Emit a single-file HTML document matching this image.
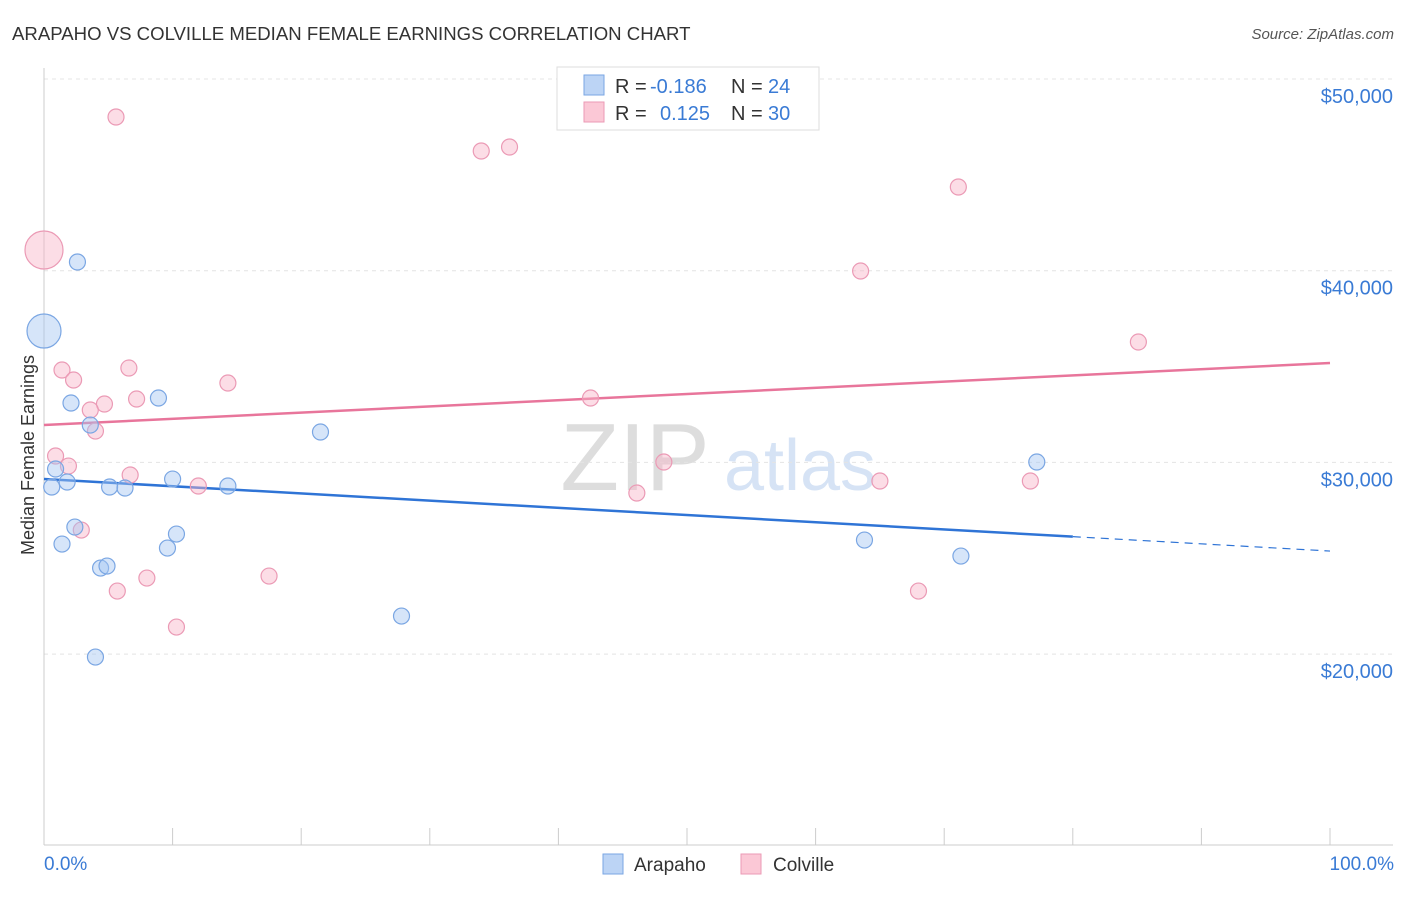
<!DOCTYPE html>
<html><head><meta charset="utf-8"><style>
body{margin:0;background:#fff;font-family:"Liberation Sans",sans-serif}
svg text{font-family:"Liberation Sans",sans-serif}
</style></head><body>
<svg id="chart" width="1406" height="892" xmlns="http://www.w3.org/2000/svg">
<text x="12" y="40" font-size="18.6" fill="#333">ARAPAHO VS COLVILLE MEDIAN FEMALE EARNINGS CORRELATION CHART</text>
<text x="1394" y="39" font-size="15" fill="#555" font-style="italic" text-anchor="end">Source: ZipAtlas.com</text>
<g>
<text x="635" y="490" font-size="96" fill="#ddd" font-family="Liberation Serif,serif" text-anchor="middle">ZIP</text>
<text x="800" y="490" font-size="72" fill="#d6e3f5" text-anchor="middle">atlas</text>
</g>
<g id="grid"></g>
<g id="axes"></g>
<g id="lines"></g>
<g id="dots"></g>
<text transform="translate(34,455) rotate(-90)" font-size="18" fill="#333" text-anchor="middle">Median Female Earnings</text>
<text x="44" y="870" font-size="19" fill="#3a7bd5">0.0%</text>
<text x="1394" y="870" font-size="19" fill="#3a7bd5" text-anchor="end">100.0%</text>
<g>
<rect x="557" y="67" width="262" height="63" fill="#fff" stroke="#ddd"/>
<rect x="584" y="75" width="20" height="20" fill="#bcd4f5" stroke="#7aa6e3"/>
<text x="615" y="93" font-size="20" fill="#333">R =</text>
<text x="650" y="93" font-size="20" fill="#3a7bd5">-0.186</text>
<text x="731" y="93" font-size="20" fill="#333">N =</text>
<text x="768" y="93" font-size="20" fill="#3a7bd5">24</text>
<rect x="584" y="102" width="20" height="20" fill="#fbc8d6" stroke="#eb9ab5"/>
<text x="615" y="120" font-size="20" fill="#333">R =</text>
<text x="660" y="120" font-size="20" fill="#3a7bd5">0.125</text>
<text x="731" y="120" font-size="20" fill="#333">N =</text>
<text x="768" y="120" font-size="20" fill="#3a7bd5">30</text>
</g>
<g>
<rect x="603" y="854" width="20" height="20" fill="#bcd4f5" stroke="#7aa6e3"/>
<text x="634" y="871" font-size="19" fill="#333">Arapaho</text>
<rect x="741" y="854" width="20" height="20" fill="#fbc8d6" stroke="#eb9ab5"/>
<text x="773" y="871" font-size="19" fill="#333">Colville</text>
</g>
</svg>
<script>
const yTicks=[20000,30000,40000,50000];
const yTickLabels=["$20,000","$30,000","$40,000","$50,000"];
const arapahoX=[0.6,0.9,1.8,1.4,2.1,2.4,2.6,3.6,4.0,4.4,4.9,5.1,6.3,8.9,9.6,10.0,10.3,14.3,21.5,27.8,63.8,71.3,77.2,0];
const arapahoY=[28715,29654,28976,25741,33097,26628,40453,31949,19846,24489,24593,28715,28663,33358,25532,29132,26263,28767,31584,21985,25950,25115,30019,36853];
const arapahoBig=[0,0,0,0,0,0,0,0,0,0,0,0,0,0,0,0,0,0,0,0,0,0,0,1];
const colvilleX=[0,5.6,34.0,36.2,71.1,63.5,85.1,1.4,2.3,6.6,14.3,7.2,4.7,3.6,4.0,0.9,1.9,6.7,12.0,2.9,5.7,8.0,17.5,10.3,42.5,48.2,46.1,65.0,76.7,68.0];
const colvilleY=[41079,48018,46244,46452,44366,39983,36279,34819,34297,34923,34140,33306,33045,32732,31636,30332,29810,29341,28767,26471,23289,23967,24072,21411,33358,30019,28402,29028,29028,23289];
const colvilleBig=[1,0,0,0,0,0,0,0,0,0,0,0,0,0,0,0,0,0,0,0,0,0,0,0,0,0,0,0,0,0];
const arapahoTrend=[29132,25376];
const colvilleTrend=[31949,35184];
const arapahoSolidEnd=80;

const NS="http://www.w3.org/2000/svg";
const xs=v=>44+v/100*1286;
const ys=v=>79+(50000-v)/10000*191.7;
function mk(tag,attrs,parent){const e=document.createElementNS(NS,tag);for(const k in attrs)e.setAttribute(k,attrs[k]);document.getElementById(parent).appendChild(e);return e;}

yTicks.forEach((t,i)=>{
  const g=mk('line',{x1:44,x2:1393,y1:ys(t),y2:ys(t),stroke:'#e4e4e4','stroke-dasharray':'4,4'},'grid');
  
  
  const l=mk('text',{x:1393,y:ys(t)+24,'font-size':20,fill:'#3a7bd5','text-anchor':'end'},'grid');
  l.textContent=yTickLabels[i];
  
  
});
const ax=mk('line',{x1:44,x2:44,y1:68,y2:845,stroke:'#ccc'},'axes');


const bx=mk('line',{x1:44,x2:1393,y1:845,y2:845,stroke:'#ccc'},'axes');


for(let i=0;i<=10;i++){
  const t=mk('line',{x1:xs(i*10),x2:xs(i*10),y1:828,y2:845,stroke:'#ccc'},'axes');
  
  
}
const bt=(x)=>arapahoTrend[0]+(arapahoTrend[1]-arapahoTrend[0])*x/100;
const l1=mk('line',{x1:xs(0),y1:ys(bt(0)),x2:xs(arapahoSolidEnd),y2:ys(bt(arapahoSolidEnd)),stroke:'#2f74d6','stroke-width':2.5},'lines');


const l2=mk('line',{x1:xs(arapahoSolidEnd),y1:ys(bt(arapahoSolidEnd)),x2:xs(100),y2:ys(bt(100)),stroke:'#2f74d6','stroke-width':1.2,'stroke-dasharray':'8,6'},'lines');


const l3=mk('line',{x1:xs(0),y1:ys(colvilleTrend[0]),x2:xs(100),y2:ys(colvilleTrend[1]),stroke:'#e8759b','stroke-width':2.5},'lines');



colvilleX.forEach((x,i)=>{
  const c=mk('circle',{cx:xs(x),cy:ys(colvilleY[i]),r:colvilleBig[i]?19:8,fill:'rgba(248,180,200,0.45)',stroke:'#eb9ab5','stroke-width':1.2},'dots');
  
  
});
arapahoX.forEach((x,i)=>{
  const c=mk('circle',{cx:xs(x),cy:ys(arapahoY[i]),r:arapahoBig[i]?17:8,fill:'rgba(165,198,242,0.45)',stroke:'#7aa6e3','stroke-width':1.2},'dots');
  
  
});
</script>
</body></html>
